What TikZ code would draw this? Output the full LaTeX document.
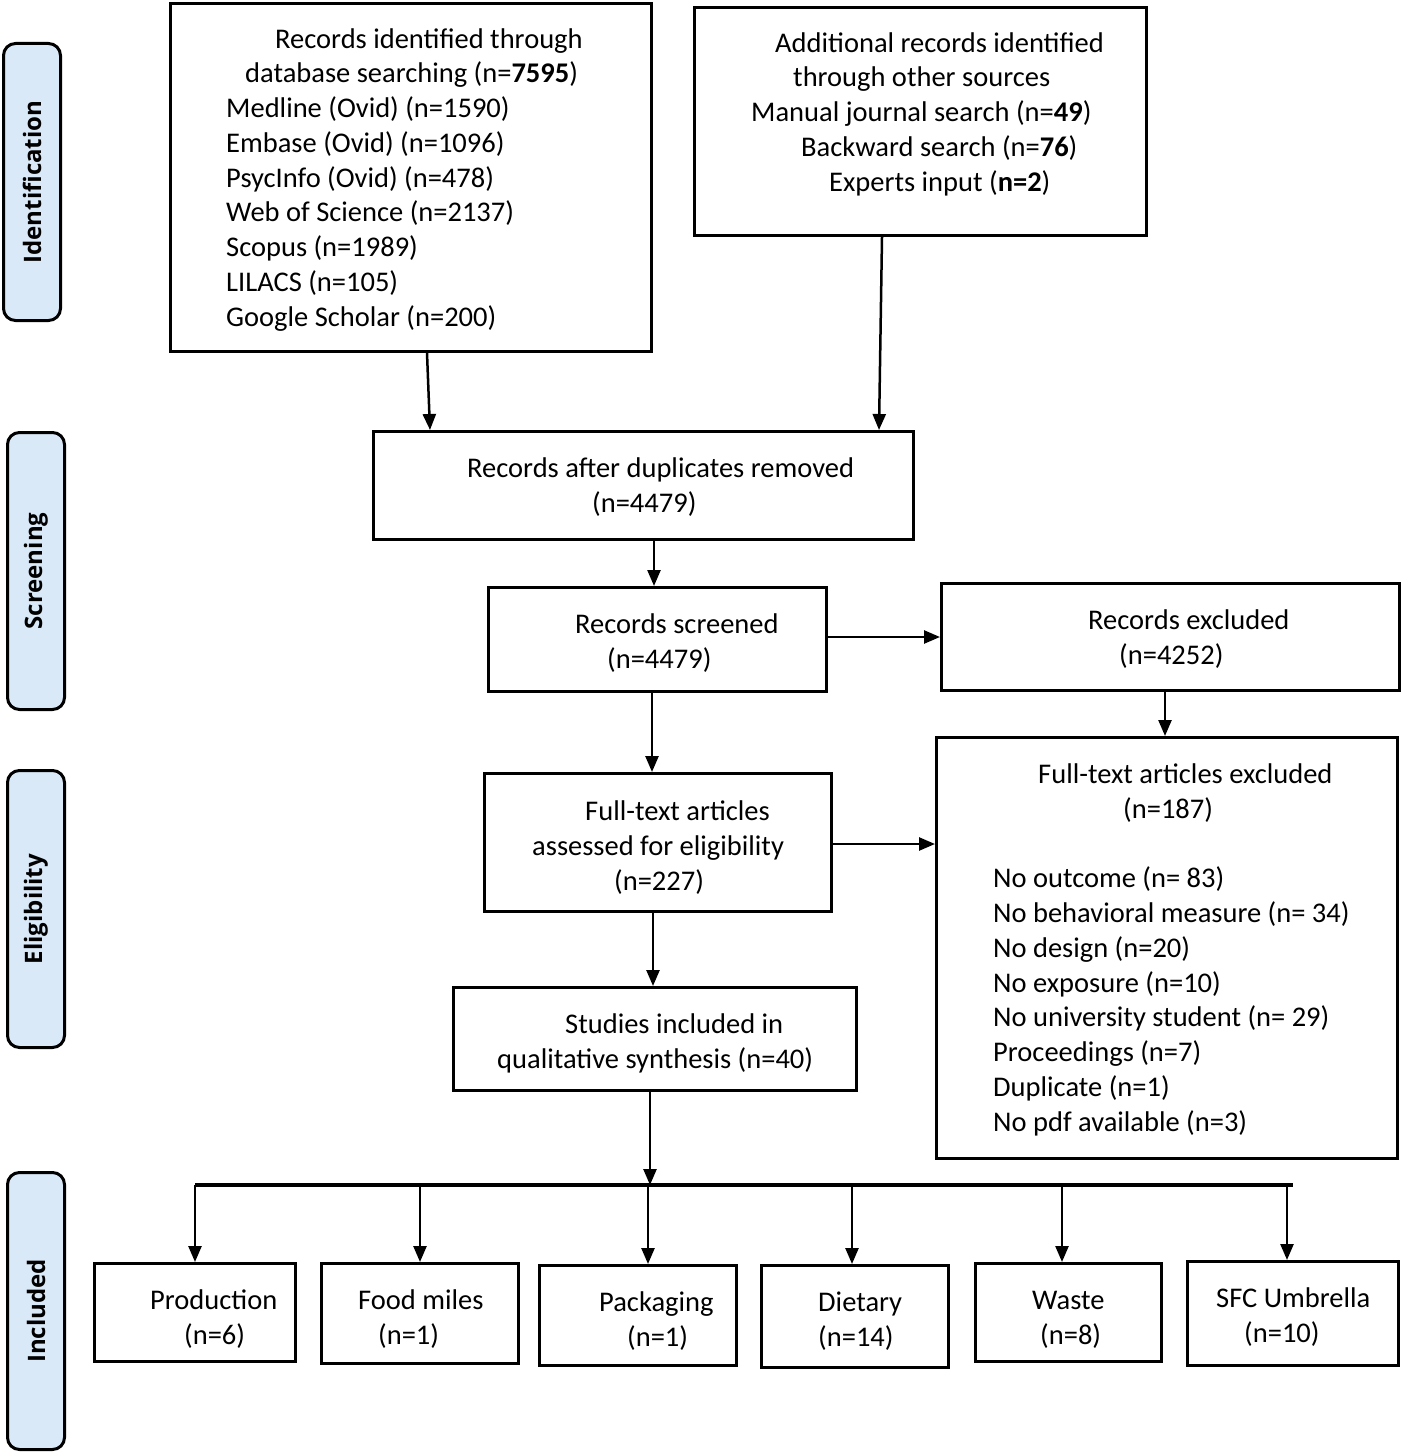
\documentclass[tikz,border=0pt]{standalone}
\usepackage{fontspec}
\setmainfont{Carlito}
\newfontfamily\sidefont{Open Sans}
\usetikzlibrary{arrows.meta}
\definecolor{sideblue}{RGB}{218,233,248}
\tikzset{
  x=1pt, y=-1pt,
  box/.style={draw=black, line width=3pt, inner sep=0pt, minimum width=#1},
  sidebox/.style={draw=black, fill=sideblue, line width=3pt, rounded corners=12pt, minimum width=57pt, minimum height=277pt, inner sep=0pt},
  sidetext/.style={rotate=90, font=\sidefont\bfseries\fontsize{24}{28}\selectfont},
  txt/.style={anchor=base west, align=left, inner sep=0pt, font=\fontsize{28.5}{34.75}\selectfont},
  arr/.style={line width=2.5pt, -{Triangle[length=16pt,width=13pt]}},
}
\begin{document}
\begin{tikzpicture}
\useasboundingbox (0,0) rectangle (1403,1453);
% side labels
\node[sidebox] (s1) at (32,182) {};
\node[sidetext] (s1t) at (s1.center) {Identification};
\node[sidebox] (s2) at (36,571) {};
\node[sidetext] (s2t) at (s2.center) {Screening};
\node[sidebox] (s3) at (36,909) {};
\node[sidetext] (s3t) at (s3.center) {Eligibility};
\node[sidebox] (s4) at (36,1311) {};
\node[sidetext] (s4t) at (s4.center) {Included};
% boxes
\node[box=481pt, minimum height=348pt] (db) at (411,177.5) {};
\node[box=452pt, minimum height=228pt] (add) at (920.5,121.5) {};
\node[box=540pt, minimum height=108pt] (dup) at (643.5,485.5) {};
\node[box=338pt, minimum height=104pt] (scr) at (657.5,639.5) {};
\node[box=458pt, minimum height=107pt] (exc) at (1170.5,637) {};
\node[box=347pt, minimum height=138pt] (ft) at (658,842.5) {};
\node[box=461pt, minimum height=421pt] (fte) at (1167,948) {};
\node[box=403pt, minimum height=103pt] (st) at (655,1039) {};
\node[box=201pt, minimum height=98pt] (b1) at (195,1312.5) {};
\node[box=197pt, minimum height=100pt] (b2) at (420,1313.5) {};
\node[box=197pt, minimum height=100pt] (b3) at (638,1315.5) {};
\node[box=187pt, minimum height=102pt] (b4) at (855,1316.5) {};
\node[box=186pt, minimum height=98pt] (b5) at (1068.5,1312.5) {};
\node[box=211pt, minimum height=104pt] (b6) at (1293,1313.5) {};
% texts (anchored at the baseline of the last line)
\node[txt] (dbt) at (226,326) {\hspace*{49pt}Records identified through\\\hspace*{19pt}database searching (n=\textbf{7595})\\Medline (Ovid) (n=1590)\\Embase (Ovid) (n=1096)\\PsycInfo (Ovid) (n=478)\\Web of Science (n=2137)\\Scopus (n=1989)\\LILACS (n=105)\\Google Scholar (n=200)};
\node[txt] (addt) at (751,191) {\hspace*{24pt}Additional records identified\\\hspace*{42pt}through other sources\\Manual journal search (n=\textbf{49})\\\hspace*{50pt}Backward search (n=\textbf{76})\\\hspace*{78pt}Experts input (\textbf{n=2})};
\node[txt] (dupt) at (467,512) {Records after duplicates removed\\\hspace*{125pt}(n=4479)};
\node[txt] (scrt) at (575,668) {Records screened\\\hspace*{32pt}(n=4479)};
\node[txt] (exct) at (1088,664) {Records excluded\\\hspace*{31pt}(n=4252)};
\node[txt] (ftt) at (532,890) {\hspace*{53pt}Full-text articles\\assessed for eligibility\\\hspace*{82pt}(n=227)};
\node[txt] (ftet) at (993,1131) {\hspace*{45pt}Full-text articles excluded\\\hspace*{130pt}(n=187)\\[34.75pt]No outcome (n= 83)\\No behavioral measure (n= 34)\\No design (n=20)\\No exposure (n=10)\\No university student (n= 29)\\Proceedings (n=7)\\Duplicate (n=1)\\No pdf available (n=3)};
\node[txt] (stt) at (497,1068) {\hspace*{68pt}Studies included in\\qualitative synthesis (n=40)};
\node[txt] (b1t) at (150,1344) {Production\\\hspace*{34pt}(n=6)};
\node[txt] (b2t) at (358,1344) {Food miles\\\hspace*{20pt}(n=1)};
\node[txt] (b3t) at (599,1346) {Packaging\\\hspace*{28pt}(n=1)};
\node[txt] (b4t) at (818,1346) {Dietary\\(n=14)};
\node[txt] (b5t) at (1032,1344) {Waste\\\hspace*{8pt}(n=8)};
\node[txt] (b6t) at (1216,1342) {SFC Umbrella\\\hspace*{28pt}(n=10)};
% connectors
\draw[arr] ([xshift=16pt]db.south) -- ([xshift=-213.5pt]dup.north);
\draw[arr] ([xshift=-38.5pt]add.south) -- ([xshift=235.5pt]dup.north);
\draw[arr] ([xshift=10.5pt]dup.south) -- ([xshift=-3.5pt]scr.north);
\draw[arr] ([yshift=2.5pt]scr.east) -- ([yshift=2.5pt]scr.east -| exc.west);
\draw[arr] ([xshift=-5.5pt]exc.south) -- ([xshift=-2pt]fte.north);
\draw[arr] ([xshift=-5.5pt]scr.south) -- ([xshift=-6pt]ft.north);
\draw[arr] ([yshift=-1.5pt]ft.east) -- ([yshift=-1.5pt]ft.east -| fte.west);
\draw[arr] ([xshift=-5pt]ft.south) -- ([xshift=-2pt]st.north);
\coordinate (bus) at (650,1185);
\draw[arr] ([xshift=-5pt]st.south) -- (bus);
\draw[line width=4pt] (b1.north |- bus) -- (b6.north |- bus);
\draw[arr] (b1.north |- bus) -- (b1.north);
\draw[arr] (b2.north |- bus) -- (b2.north);
\draw[arr] ([xshift=10pt]b3.north |- bus) -- ([xshift=10pt]b3.north);
\draw[arr] ([xshift=-3pt]b4.north |- bus) -- ([xshift=-3pt]b4.north);
\draw[arr] ([xshift=-6.5pt]b5.north |- bus) -- ([xshift=-6.5pt]b5.north);
\draw[arr] ([xshift=-6pt]b6.north |- bus) -- ([xshift=-6pt]b6.north);
\end{tikzpicture}
\end{document}
